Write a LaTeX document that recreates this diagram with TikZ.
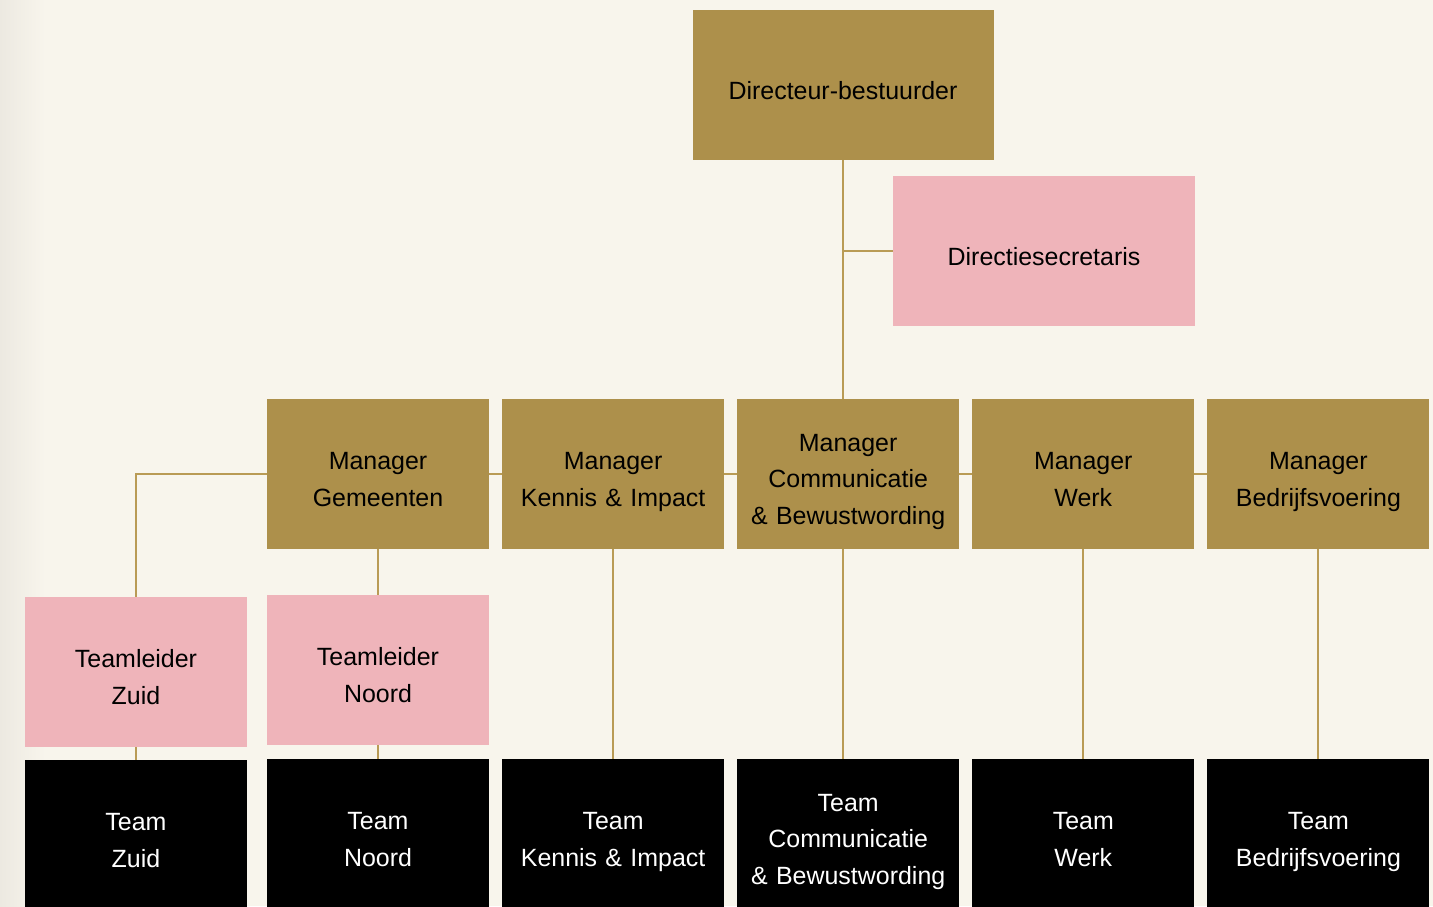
\documentclass[tikz,border=0pt]{standalone}
\usepackage{fontspec}
\setmainfont{Liberation Sans}
\usetikzlibrary{positioning}
\definecolor{goud}{HTML}{AD904B}
\definecolor{roze}{HTML}{EFB4BA}
\definecolor{achtergrond}{HTML}{F8F5EC}
\definecolor{rand}{HTML}{ECE9E1}
\definecolor{lijnkleur}{HTML}{B99B55}
\tikzset{
	blok/.style={
		rectangle,
		inner sep=0pt,
		outer sep=0pt,
		minimum width=4.44cm,
		minimum height=3cm,
		text width=4.3cm,
		align=center,
		execute at begin node={\rule{0pt}{0.66cm}},
		execute at end node={\rule[-0.1cm]{0pt}{0.1cm}},
		font=\fontsize{14.2}{21}\selectfont},
	leiding/.style={blok, fill=goud, text=black},
	staf/.style={blok, fill=roze, text=black},
	team/.style={blok, fill=black, text=white},
	lijn/.style={draw=lijnkleur, line width=1.1pt},
}
\begin{document}
\begin{tikzpicture}[node distance=0.262cm]
	% achtergrond
	\fill[achtergrond] (0,0) rectangle (28.66,-18.12);
	\shade[left color=rand, right color=achtergrond] (0,0) rectangle (0.9,-18.12);
	\clip (0,0) rectangle (28.66,-18.12);
	% directie
	\node[leiding, minimum width=6.02cm, text width=5.8cm] (dir) at (16.86,-1.70) {Directeur-bestuurder};
	\node[staf, minimum width=6.04cm, text width=5.8cm] (secr) at (20.88,-5.02) {Directiesecretaris};
	% managers
	\node[leiding] (mgem) at (7.56,-9.48) {Manager\\Gemeenten};
	\node[leiding, right=of mgem] (mken) {Manager\\Kennis \& Impact};
	\node[leiding, right=of mken] (mcom) {Manager\\Communicatie\\\& Bewustwording};
	\node[leiding, right=of mcom] (mwerk) {Manager\\Werk};
	\node[leiding, right=of mwerk] (mbed) {Manager\\Bedrijfsvoering};
	% teamleiders
	\node[staf, below=0.92cm of mgem] (tlnoord) {Teamleider\\Noord};
	\node[staf, left=0.4cm of tlnoord, yshift=-0.04cm] (tlzuid) {Teamleider\\Zuid};
	% teams
	\node[team, below=0.28cm of tlnoord] (tnoord) {Team\\Noord};
	\node[team, below=0.26cm of tlzuid] (tzuid) {Team\\Zuid};
	\node[team, below=4.2cm of mken] (tken) {Team\\Kennis \& Impact};
	\node[team, below=4.2cm of mcom] (tcom) {Team\\Communicatie\\\& Bewustwording};
	\node[team, below=4.2cm of mwerk] (twerk) {Team\\Werk};
	\node[team, below=4.2cm of mbed] (tbed) {Team\\Bedrijfsvoering};

	% verbindingen
	\path[lijn] (dir.south) -- (dir.south |- mcom.north);
	\path[lijn] (dir.south |- secr.west) -- (secr.west);
	\path[lijn] (mgem.east) -- (mken.west);
	\path[lijn] (mken.east) -- (mcom.west);
	\path[lijn] (mcom.east) -- (mwerk.west);
	\path[lijn] (mwerk.east) -- (mbed.west);
	\path[lijn] (mgem.west) -| (tlzuid.north);
	\path[lijn] (mgem.south) -- (tlnoord.north);
	\path[lijn] (tlzuid.south) -- (tzuid.north);
	\path[lijn] (tlnoord.south) -- (tnoord.north);
	\path[lijn] (mken.south) -- (tken.north);
	\path[lijn] (dir.south |- mcom.south) -- (dir.south |- tcom.north);
	\path[lijn] (mwerk.south) -- (twerk.north);
	\path[lijn] (mbed.south) -- (tbed.north);
\end{tikzpicture}
\end{document}
